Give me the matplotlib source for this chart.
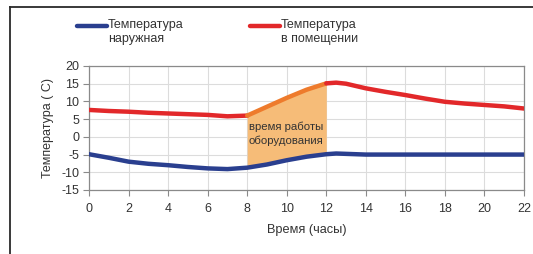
import matplotlib
matplotlib.use('Agg')
import matplotlib.pyplot as plt
from matplotlib.lines import Line2D

plt.rcParams['font.family'] = ['Liberation Sans', 'DejaVu Sans']
plt.rcParams['axes.unicode_minus'] = False

hours = [0, 1, 2, 3, 4, 5, 6, 7, 8, 9, 10, 11, 12, 12.5, 13, 14, 15, 16, 17, 18, 19, 20, 21, 22]
t_inside = [7.6, 7.3, 7.1, 6.8, 6.6, 6.4, 6.2, 5.8, 6.0, 8.5, 11.0, 13.3, 15.1, 15.3, 15.0, 13.7, 12.7, 11.8, 10.8, 9.9, 9.4, 9.0, 8.6, 8.0]
t_outside = [-4.9, -5.9, -7.0, -7.6, -8.0, -8.5, -8.9, -9.1, -8.7, -7.8, -6.6, -5.6, -4.9, -4.7, -4.8, -5.0, -5.0, -5.0, -5.0, -5.0, -5.0, -5.0, -5.0, -5.0]
work_start, work_end = 8, 12

xticks = list(range(0, 23, 2))
yticks = list(range(-15, 21, 5))

fig = plt.figure(figsize=(5.33, 2.54), dpi=100)
ax = fig.add_axes([89 / 533, 1 - 190 / 254, (524 - 89) / 533, (190 - 66) / 254])

# period when heating equipment works
i0 = hours.index(work_start)
i1 = hours.index(work_end)
ax.fill_between(hours[i0:i1 + 1], t_outside[i0:i1 + 1], t_inside[i0:i1 + 1],
                color='#f6bc78', zorder=1, linewidth=0)

ax.plot(hours, t_outside, color='#2a3f8f', lw=3.2, solid_capstyle='round', zorder=3)
ax.plot(hours[:i0 + 1], t_inside[:i0 + 1], color='#e2282a', lw=3.2, solid_capstyle='round', zorder=3)
ax.plot(hours[i0:i1 + 1], t_inside[i0:i1 + 1], color='#ee7b2c', lw=3.2, solid_capstyle='round', zorder=3)
ax.plot(hours[i1:], t_inside[i1:], color='#e2282a', lw=3.2, solid_capstyle='round', zorder=3)

ax.text(work_start + 0.08, 0.8, 'время работы\nоборудования', fontsize=8.2,
        color='#333333', va='center', ha='left', linespacing=1.4, zorder=4)

ax.set_xlim(0, 22)
ax.set_ylim(-15, 20)
ax.set_xticks(xticks)
ax.set_yticks(yticks)
ax.grid(True, color='#dcdcdc', lw=0.8, zorder=0)
ax.set_axisbelow(True)
for s in ax.spines.values():
    s.set_color('#8a8a8a')
    s.set_linewidth(0.9)
ax.tick_params(colors='#8a8a8a', labelcolor='#333333', labelsize=9, length=4, width=0.8)
ax.tick_params(axis='x', pad=5)
ax.tick_params(axis='y', pad=3)
ax.set_xlabel('Время (часы)', fontsize=9.2, color='#333333', labelpad=7)
ax.set_ylabel('Температура ( С)', fontsize=9, color='#333333', labelpad=5)

# legend drawn at top
fig.add_artist(Line2D([77 / 533, 107 / 533], [1 - 26 / 254] * 2, color='#2a3f8f', lw=3.2,
                      solid_capstyle='round'))
fig.text(108 / 533, 1 - 19 / 254, 'Температура\nнаружная', fontsize=9, color='#333333',
         va='top', ha='left', linespacing=1.2)
fig.add_artist(Line2D([250 / 533, 280 / 533], [1 - 26 / 254] * 2, color='#e2282a', lw=3.2,
                      solid_capstyle='round'))
fig.text(281 / 533, 1 - 19 / 254, 'Температура\nв помещении', fontsize=9, color='#333333',
         va='top', ha='left', linespacing=1.2)

# outer frame
fig.add_artist(Line2D([10 / 533, 10 / 533], [0, 1 - 7 / 254], color='#2a2a2a', lw=1.3))
fig.add_artist(Line2D([10 / 533, 1], [1 - 7 / 254] * 2, color='#2a2a2a', lw=1.3))

fig.savefig('out.png', dpi=100)
